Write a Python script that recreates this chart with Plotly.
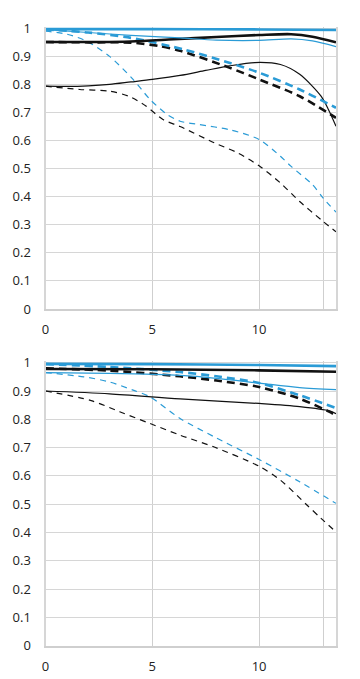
import plotly.graph_objects as go

BLUE = "#2a9bd6"
BLACK = "#111111"

# ---------- Top chart data ----------
t_blue_thick_solid_x = [0, 5, 10, 13.6]
t_blue_thick_solid_y = [0.997, 0.997, 0.996, 0.994]
t_blue_thin_solid_x = [0, 2, 4, 6.3, 8, 10, 11.5, 12.5, 13.6]
t_blue_thin_solid_y = [0.995, 0.985, 0.975, 0.966, 0.958, 0.957, 0.962, 0.955, 0.935]
t_black_thick_solid_x = [0, 2, 4, 6, 8, 10, 11.5, 12.5, 13.6]
t_black_thick_solid_y = [0.951, 0.951, 0.953, 0.961, 0.969, 0.976, 0.979, 0.97, 0.95]
t_black_thin_solid_x = [0, 1, 2, 3, 4, 5, 6.3, 7.5, 8.6, 9.8, 11, 11.9, 12.9, 13.25, 13.6]
t_black_thin_solid_y = [0.794, 0.793, 0.795, 0.80, 0.809, 0.818, 0.832, 0.85, 0.866, 0.878, 0.871, 0.836, 0.758, 0.71, 0.651]
t_blue_thick_dash_x = [0, 2, 4, 6.5, 8.6, 10, 11.9, 13.6]
t_blue_thick_dash_y = [0.996, 0.985, 0.966, 0.924, 0.877, 0.842, 0.782, 0.717]
t_black_thick_dash_x = [0, 2, 4, 5.3, 6.3, 8.6, 10, 11.9, 13.6]
t_black_thick_dash_y = [0.951, 0.95, 0.949, 0.937, 0.92, 0.86, 0.818, 0.758, 0.681]
t_blue_thin_dash_x = [0, 1, 1.9, 3, 4.1, 4.9, 5.7, 6.3, 7.2, 8.6, 10, 11, 11.5, 12.5, 13, 13.6]
t_blue_thin_dash_y = [0.99, 0.979, 0.955, 0.90, 0.818, 0.746, 0.693, 0.669, 0.657, 0.639, 0.604, 0.544, 0.508, 0.443, 0.395, 0.345]
t_black_thin_dash_x = [0, 1.6, 3, 3.9, 4.7, 5.5, 6.3, 7.9, 9, 10, 11, 11.9, 12.9, 13.6]
t_black_thin_dash_y = [0.794, 0.782, 0.776, 0.758, 0.723, 0.675, 0.65, 0.592, 0.556, 0.51, 0.449, 0.383, 0.318, 0.275]

# ---------- Bottom chart data ----------
b_blue_thick_solid_x = [0, 5, 10, 13.6]
b_blue_thick_solid_y = [0.996, 0.995, 0.992, 0.988]
b_blue_thin_solid_x = [0, 3, 6.3, 8, 10, 11.9, 13.6]
b_blue_thin_solid_y = [0.965, 0.962, 0.955, 0.945, 0.928, 0.912, 0.905]
b_black_thick_solid_x = [0, 5, 10, 13.6]
b_black_thick_solid_y = [0.978, 0.977, 0.973, 0.968]
b_black_thin_solid_x = [0, 3, 6.3, 10, 11.9, 13.3, 13.6]
b_black_thin_solid_y = [0.90, 0.89, 0.872, 0.856, 0.845, 0.83, 0.82]
b_blue_thick_dash_x = [0, 3, 6.3, 8, 10, 11.9, 13.6]
b_blue_thick_dash_y = [0.995, 0.985, 0.967, 0.952, 0.928, 0.885, 0.84]
b_black_thick_dash_x = [0, 3, 6.3, 8, 10, 11.9, 13.3, 13.6]
b_black_thick_dash_y = [0.98, 0.972, 0.952, 0.937, 0.914, 0.873, 0.826, 0.814]
b_blue_thin_dash_x = [0, 1.8, 3, 4.1, 4.9, 6.3, 7.9, 10, 11.9, 13.6]
b_blue_thin_dash_y = [0.965, 0.95, 0.932, 0.903, 0.879, 0.803, 0.738, 0.658, 0.579, 0.503]
b_black_thin_dash_x = [0, 2.1, 3.5, 4.9, 6.3, 7.9, 10, 11, 12.2, 12.9, 13.6]
b_black_thin_dash_y = [0.90, 0.867, 0.826, 0.785, 0.744, 0.702, 0.634, 0.585, 0.50, 0.45, 0.402]

x_tickvals = [0, 5, 10, 13]
x_ticktext = ["0", "5", "10", ""]
y_tickvals = [0, 0.1, 0.2, 0.3, 0.4, 0.5, 0.6, 0.7, 0.8, 0.9, 1]
y_ticktext = ["0", "0.1", "0.2", "0.3", "0.4", "0.5", "0.6", "0.7", "0.8", "0.9", "1"]

fig = go.Figure()

def add(x, y, color, width, dash, xa, ya):
    fig.add_trace(go.Scatter(x=x, y=y, mode="lines", xaxis=xa, yaxis=ya,
                             line=dict(color=color, width=width, dash=dash, shape="spline", smoothing=0.8),
                             showlegend=False, hoverinfo="skip"))

THICK, THIN = 2.6, 1.2
DT, DN = "8px,5px", "6px,5px"

for xa, ya, series in [
    ("x", "y", [
        (t_blue_thin_dash_x, t_blue_thin_dash_y, BLUE, THIN, DN),
        (t_black_thin_dash_x, t_black_thin_dash_y, BLACK, THIN, DN),
        (t_black_thin_solid_x, t_black_thin_solid_y, BLACK, THIN, "solid"),
        (t_black_thick_dash_x, t_black_thick_dash_y, BLACK, THICK, DT),
        (t_blue_thick_dash_x, t_blue_thick_dash_y, BLUE, THICK, DT),
        (t_black_thick_solid_x, t_black_thick_solid_y, BLACK, THICK, "solid"),
        (t_blue_thin_solid_x, t_blue_thin_solid_y, BLUE, THIN, "solid"),
        (t_blue_thick_solid_x, t_blue_thick_solid_y, BLUE, THICK, "solid"),
    ]),
    ("x2", "y2", [
        (b_blue_thin_dash_x, b_blue_thin_dash_y, BLUE, THIN, DN),
        (b_black_thin_dash_x, b_black_thin_dash_y, BLACK, THIN, DN),
        (b_black_thin_solid_x, b_black_thin_solid_y, BLACK, THIN, "solid"),
        (b_black_thick_dash_x, b_black_thick_dash_y, BLACK, THICK, DT),
        (b_blue_thick_dash_x, b_blue_thick_dash_y, BLUE, THICK, DT),
        (b_black_thick_solid_x, b_black_thick_solid_y, BLACK, THICK, "solid"),
        (b_blue_thin_solid_x, b_blue_thin_solid_y, BLUE, THIN, "solid"),
        (b_blue_thick_solid_x, b_blue_thick_solid_y, BLUE, THICK, "solid"),
    ]),
]:
    for (x, y, c, w, d) in series:
        add(x, y, c, w, d, xa, ya)

H = 679.0
xdom = [45.5 / 360, 336 / 360]
top_dom = [(H - 309) / H, (H - 26.9) / H]
bot_dom = [(H - 645.7) / H, (H - 361.3) / H]

FONT = dict(family="Open Sans, Noto Sans, sans-serif", size=13, color="#222")
xcommon = dict(range=[0, 13.6], tickvals=x_tickvals, ticktext=x_ticktext, showgrid=True,
               gridcolor="#cfcfcf", gridwidth=1, showline=True, linecolor="#cfcfcf", linewidth=1.5,
               zeroline=False, ticks="", ticklabelstandoff=8, tickfont=FONT, fixedrange=True,
               automargin=False)
ycommon = dict(range=[0, 1.005], tickvals=y_tickvals, ticktext=y_ticktext, showgrid=True,
               gridcolor="#d6d6d6", gridwidth=1, showline=True, linecolor="#d6d6d6", linewidth=2,
               mirror=True, zeroline=False, ticks="", ticklabelstandoff=10, tickfont=FONT, fixedrange=True,
               automargin=False)

fig.update_layout(
    width=360, height=679, autosize=False,
    margin=dict(l=0, r=0, t=0, b=0, pad=0, autoexpand=False),
    paper_bgcolor="white", plot_bgcolor="white",
    showlegend=False,
    xaxis=dict(domain=xdom, anchor="y", **xcommon),
    yaxis=dict(domain=top_dom, anchor="x", **ycommon),
    xaxis2=dict(domain=xdom, anchor="y2", **xcommon),
    yaxis2=dict(domain=bot_dom, anchor="x2", **ycommon),
)

fig.write_html(
    "out.html",
    config={"displayModeBar": False, "responsive": False},
    post_script="document.body.style.margin='0';document.body.style.overflow='hidden';"
                "document.documentElement.style.overflow='hidden';",
)
